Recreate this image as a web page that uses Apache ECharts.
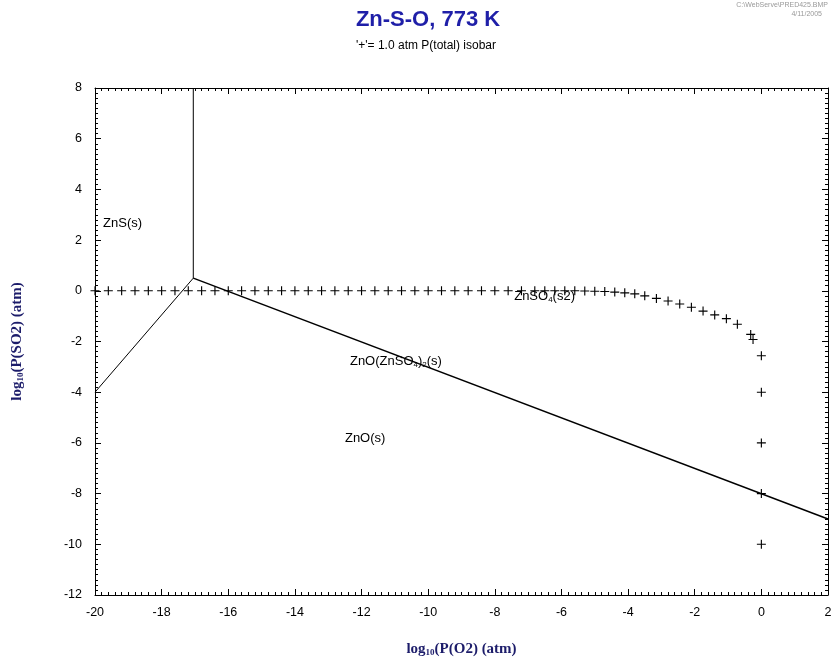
<!DOCTYPE html>
<html>
<head>
<meta charset="utf-8">
<script src="https://cdn.jsdelivr.net/npm/echarts@6/dist/echarts.min.js"></script>
<style>html,body{margin:0;padding:0;background:#fff;}#c{width:835px;height:662px;}</style>
</head>
<body>
<div id="c"></div>
<script>
// ---- data ----
var xTicks = {min: -20, max: 2, step: 2};
var yTicks = {min: -12, max: 8, step: 2};
// phase boundary lines (log P(O2), log P(SO2))
var lineZnS_ZnSO4 = [[-17.05, 0.5], [-17.05, 8]];
var lineZnS_ZnO = [[-20, -4.0], [-17.05, 0.5]];
var lineUpper = [[-17.05, 0.5], [2, -9.0]];
// 1 atm total pressure isobar points
var isobarX = [-20, -19.6, -19.2, -18.8, -18.4, -18, -17.6, -17.2, -16.8, -16.4,
  -16, -15.6, -15.2, -14.8, -14.4, -14, -13.6, -13.2, -12.8, -12.4,
  -12, -11.6, -11.2, -10.8, -10.4, -10, -9.6, -9.2, -8.8, -8.4,
  -8, -7.6, -7.2, -6.8, -6.5, -6.2, -5.9, -5.6, -5.3, -5.0,
  -4.7, -4.4, -4.1, -3.8, -3.5, -3.15, -2.8, -2.45, -2.1, -1.75,
  -1.4, -1.05, -0.72, -0.32, -0.25, 0, 0, 0, 0, 0];
var isobarY = [0, 0, 0, 0, 0, 0, 0, 0, 0, 0,
  0, 0, 0, 0, 0, 0, 0, 0, 0, 0,
  0, 0, 0, 0, 0, 0, 0, 0, 0, 0,
  0, 0, 0, 0, 0, 0, 0, 0, -0.01, -0.02,
  -0.03, -0.05, -0.08, -0.12, -0.2, -0.3, -0.4, -0.52, -0.65, -0.8,
  -0.95, -1.1, -1.32, -1.72, -1.92, -2.56, -4, -6, -8, -10];
// region labels
var regionLabels = [
  {x: -19.76, y: 2.66, text: 'ZnS(s)'},
  {x: -7.42, y: -0.21, text: 'ZnSO{sub|4}(s2)'},
  {x: -12.35, y: -2.77, text: 'ZnO(ZnSO{sub|4}){sub|2}(s)'},
  {x: -12.5, y: -5.83, text: 'ZnO(s)'}
];

var isobar = isobarX.map(function (x, i) { return [x, isobarY[i]]; });
var plusPath = 'path://M3.5,0h1v3.5h3.5v1h-3.5v3.5h-1v-3.5h-3.5v-1h3.5z';

var chart = echarts.init(document.getElementById('c'), null, {renderer: 'canvas'});

function axisCommon(show, margin) {
  return {
    axisLine: {show: true, onZero: false, lineStyle: {color: '#000', width: 1}},
    axisTick: {show: true, inside: true, length: 6, lineStyle: {color: '#000'}},
    minorTick: {show: true, splitNumber: 10, length: 3, lineStyle: {color: '#000'}},
    splitLine: {show: false},
    axisLabel: {show: show, color: '#000', fontFamily: 'Liberation Sans, Arial', fontSize: 12.5, margin: margin || 9}
  };
}
var nameStyle = {
  fontFamily: 'Liberation Serif, Times New Roman', fontWeight: 'bold', fontSize: 15, color: '#1c1c6a',
  rich: {s: {fontFamily: 'Liberation Serif', fontWeight: 'bold', fontSize: 9, color: '#1c1c6a', padding: [7, 0, 0, 0]}}
};

var option = {
  backgroundColor: '#fff',
  animation: false,
  grid: {left: 95, right: 7, top: 88, bottom: 65, containLabel: false},
  xAxis: [
    Object.assign({type: 'value', min: xTicks.min, max: xTicks.max, interval: xTicks.step, position: 'bottom',
      name: 'log{s|10}(P(O2) (atm)', nameLocation: 'middle', nameGap: 46, nameTextStyle: nameStyle}, axisCommon(true, 11)),
    Object.assign({type: 'value', min: xTicks.min, max: xTicks.max, interval: xTicks.step, position: 'top'}, axisCommon(false))
  ],
  yAxis: [
    Object.assign({type: 'value', min: yTicks.min, max: yTicks.max, interval: yTicks.step, position: 'left',
      name: 'log{s|10}(P(SO2) (atm)', nameLocation: 'middle', nameGap: 70, nameRotate: 90, nameTextStyle: nameStyle}, axisCommon(true, 13)),
    Object.assign({type: 'value', min: yTicks.min, max: yTicks.max, interval: yTicks.step, position: 'right'}, axisCommon(false))
  ],
  graphic: [
    {type: 'text', x: 428, y: 9, style: {text: 'Zn-S-O, 773 K', font: 'bold 22px "Liberation Sans", Arial', fill: '#1f1fa8', align: 'center'}},
    {type: 'text', x: 426, y: 40, style: {text: "'+'= 1.0 atm P(total) isobar", font: '12px "Liberation Sans", Arial', fill: '#000', align: 'center'}},
    {type: 'text', x: 828, y: 2, style: {text: 'C:\\WebServe\\PRED425.BMP', font: '7px "Liberation Sans", Arial', fill: '#999', align: 'right'}},
    {type: 'text', x: 822, y: 11, style: {text: '4/11/2005', font: '7px "Liberation Sans", Arial', fill: '#999', align: 'right'}}
  ],
  series: [
    {type: 'line', data: lineZnS_ZnSO4, symbol: 'none', lineStyle: {color: '#000', width: 1}},
    {type: 'line', data: lineZnS_ZnO, symbol: 'none', lineStyle: {color: '#000', width: 1}},
    {type: 'line', data: lineUpper, symbol: 'none', lineStyle: {color: '#000', width: 1.5}},
    {type: 'scatter', data: isobar, symbol: plusPath, symbolSize: 9, itemStyle: {color: '#000', opacity: 1}},
    {type: 'scatter', data: regionLabels.map(function (d) { return {value: [d.x, d.y], name: d.text}; }),
      symbolSize: 0.1, itemStyle: {color: 'transparent'},
      label: {show: true, position: 'right', distance: 0, opacity: 1, formatter: function (p) { return p.name; },
        fontFamily: 'Liberation Sans, Arial', fontSize: 13, color: '#000',
        rich: {sub: {fontFamily: 'Liberation Sans, Arial', fontSize: 8, color: '#000', padding: [8, 0, 0, 0]}}}}
  ]
};
chart.setOption(option);
</script>
</body>
</html>
